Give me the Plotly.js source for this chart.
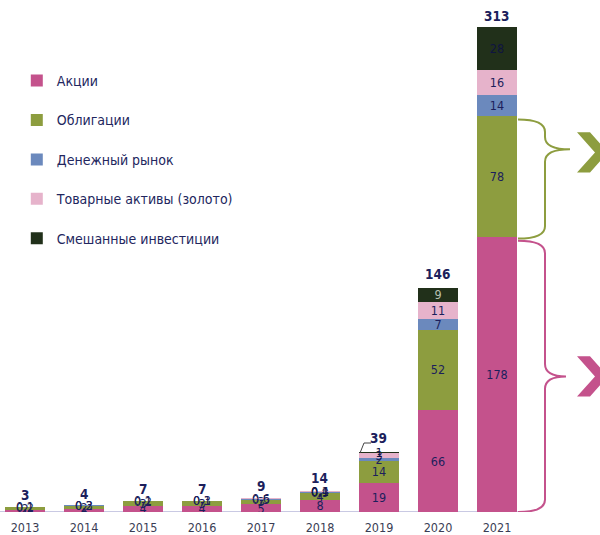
<!DOCTYPE html>
<html>
<head>
<meta charset="utf-8">
<script src="https://cdn.plot.ly/plotly-3.0.1.min.js"></script>
<style>html,body{margin:0;padding:0;background:#fff}#chart{width:600px;height:535px}</style>
</head>
<body>
<div id="chart"></div>
<script>
// ---- data ----
const years = ['2013','2014','2015','2016','2017','2018','2019','2020','2021'];
const akcii     = [1, 2, 4, 4, 5, 8, 19, 66, 178];
const obligacii = [2, 2, 3, 3, 3, 4, 14, 52, 78];
const dengi     = [0.2, 0.3, 0.2, 0.3, 0.5, 0.9, 2, 7, 14];
const tovar     = [0.1, 0.2, 0.1, 0.1, 0.6, 0.4, 3, 11, 16];
const smesh     = [0, 0, 0, 0, 0, 0.1, 1, 9, 28];
const totals    = [3, 4, 7, 7, 9, 14, 39, 146, 313];
const seriesNames = ['Акции', 'Облигации', 'Денежный рынок', 'Товарные активы (золото)', 'Смешанные инвестиции'];

// ---- styling ----
const FONT = '"DejaVu Sans Condensed", "DejaVu Sans", sans-serif';
const NAVY = '#1c1f5c';
const colors = ['#c4528c', '#8d9d3f', '#6b89bd', '#e6b3cb', '#21301a'];
const seriesVals = [akcii, obligacii, dengi, tovar, smesh];

const fmt = v => v === 0 ? '' : String(v).replace('.', ',');

const traces = seriesVals.map((vals, i) => ({
  type: 'bar',
  name: seriesNames[i],
  x: years,
  y: vals,
  text: vals.map(fmt),
  textposition: 'inside',
  insidetextanchor: 'middle',
  constraintext: 'none',
  textangle: 0,
  textfont: {family: FONT, size: 12.5,
             color: i === 4 ? vals.map((v, k) => k === 7 ? '#b8c0b0' : '#0f1440') : NAVY},
  marker: {color: colors[i]},
  legendgroup: 'g' + i,
  hoverinfo: 'none'
}));

// total labels: x given as category index so numeric-looking category names are not misread
const annotations = years.map((yr, k) => ({
  x: k, y: totals[k], xref: 'x', yref: 'y',
  text: '<b>' + totals[k] + '</b>',
  showarrow: false, yanchor: 'bottom', yshift: k === 6 ? 4 : 2,
  font: {family: FONT, size: 13.5, color: NAVY}
}));

// ---- decorations (pixel helpers) ----
const W = 600, PH = 512;
const pxX = p => p / W;
const pxY = p => (PH - p) / PH;

function brace(x0, x1, x2, yT, yB, yTip, r, color) {
  const X0 = pxX(x0), X1 = pxX(x1), X2 = pxX(x2);
  const path = `M${X0},${yT} Q${X1},${yT} ${X1},${yT - r} L${X1},${yTip + r} ` +
               `Q${X1},${yTip} ${X2},${yTip} Q${X1},${yTip} ${X1},${yTip - r} ` +
               `L${X1},${yB + r} Q${X1},${yB} ${X0},${yB}`;
  return {type: 'path', xref: 'paper', yref: 'y', path: path,
          line: {color: color, width: 2}, layer: 'above'};
}
function chevron(yc, h, color) {
  const a = pxX(577), b = pxX(590), c = pxX(608), d = pxX(595);
  const path = `M${a},${yc + h} L${b},${yc + h} L${c},${yc} L${b},${yc - h} L${a},${yc - h} L${d},${yc} Z`;
  return {type: 'path', xref: 'paper', yref: 'y', path: path,
          fillcolor: color, line: {width: 0}, layer: 'above'};
}

const n = years.length - 1;
const gT = akcii[n] + obligacii[n] - 2, gB = akcii[n] - 1;
const gTip = gT - 0.25 * (gT - gB);
const pT = akcii[n] - 2.5, pB = 0;
const pTip = (pT + pB) / 2;

const shapes = [
  {type: 'line', xref: 'paper', yref: 'y', x0: 0, x1: pxX(525), y0: 0, y1: 0,
   line: {color: '#c9c9e3', width: 2}, layer: 'below'},
  brace(518, 545, 570, gT, gB, gTip, 8, '#8d9d3f'),
  brace(518, 545, 566, pT, pB, pTip, 8, '#c4528c'),
  chevron(gTip - 2, 13, '#8d9d3f'),
  chevron(pTip, 13, '#c4528c'),
  {type: 'path', xref: 'paper', yref: 'paper',
   path: `M${pxX(360)},${pxY(453)} L${pxX(364)},${pxY(443)} L${pxX(371)},${pxY(443)}`,
   line: {color: '#444', width: 1}}
];

const layout = {
  width: 600, height: 535,
  margin: {l: 0, r: 0, t: 0, b: 23},
  paper_bgcolor: '#fff', plot_bgcolor: '#fff',
  barmode: 'stack',
  bargap: 0.32,
  showlegend: true,
  legend: {
    x: 0.028, y: 0.873, xanchor: 'left', yanchor: 'top',
    traceorder: 'grouped', tracegroupgap: 18.2,
    font: {family: FONT, size: 14, color: '#22265e'},
    bgcolor: 'rgba(0,0,0,0)'
  },
  xaxis: {
    type: 'category',
    range: [-0.4237, 9.746],
    showgrid: false, zeroline: false, showline: false,
    ticks: '', ticklabelstandoff: 6,
    tickfont: {family: FONT, size: 12.5, color: '#3a3d55'},
    fixedrange: true
  },
  yaxis: {
    range: [0, 331.4],
    visible: false, showgrid: false, zeroline: false,
    fixedrange: true
  },
  shapes: shapes,
  annotations: annotations
};

Plotly.newPlot('chart', traces, layout, {displayModeBar: false, staticPlot: true});
</script>
</body>
</html>
